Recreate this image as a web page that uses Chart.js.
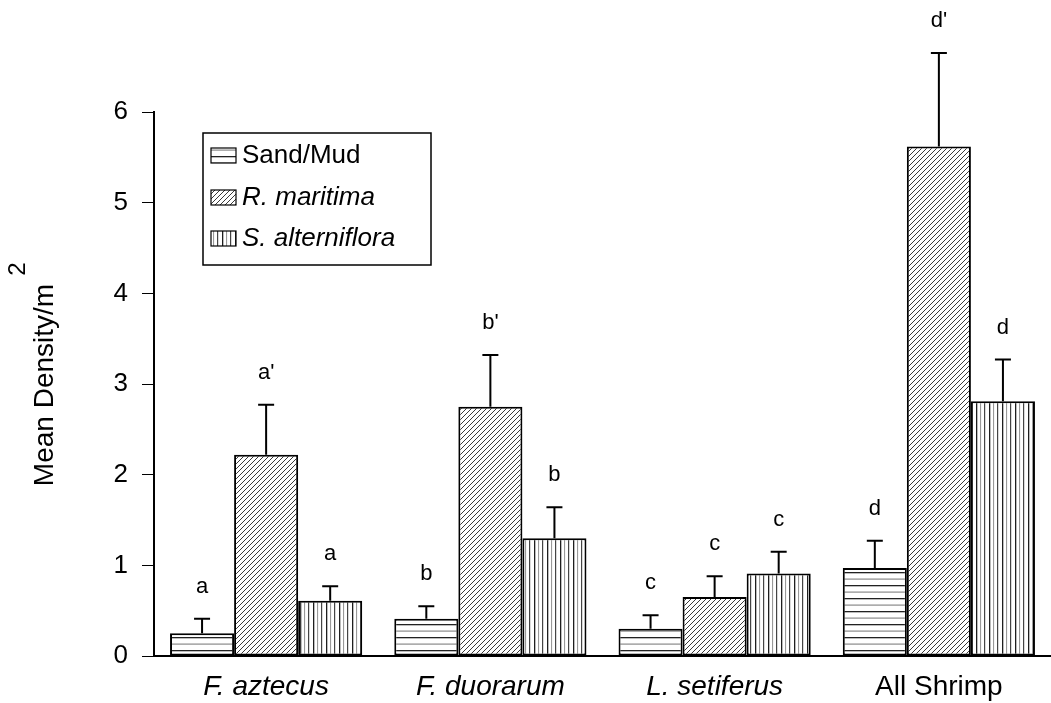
<!DOCTYPE html>
<html>
<head>
<meta charset="utf-8">
<script src="https://cdn.jsdelivr.net/npm/chart.js@4"></script>
<style>
    html, body { margin: 0; padding: 0; background: #fff; }
    #wrap { width: 1051px; height: 703px; position: relative; }
</style>
</head>
<body>
<div id="wrap"><canvas id="densityChart" width="1051" height="703"></canvas></div>
<script>
const categories = ['F. aztecus', 'F. duorarum', 'L. setiferus', 'All Shrimp'];
const seriesNames = ['Sand/Mud', 'R. maritima', 'S. alterniflora'];

const sandMud = [0.25, 0.41, 0.30, 0.97];
const maritima = [2.22, 2.75, 0.65, 5.62];
const alterniflora = [0.61, 1.30, 0.91, 2.81];

// upper end of the error bars
const sandMudErr = [0.41, 0.55, 0.45, 1.27];
const maritimaErr = [2.77, 3.32, 0.88, 6.65];
const alternifloraErr = [0.77, 1.64, 1.15, 3.27];

// significance letters above each bar
const sandMudLetters = ['a', 'b', 'c', 'd'];
const maritimaLetters = ["a'", "b'", 'c', "d'"];
const alternifloraLetters = ['a', 'b', 'c', 'd'];

const yTicks = [0, 1, 2, 3, 4, 5, 6];

const FONT = '"Liberation Sans", Arial, Helvetica, sans-serif';

function makePattern(kind) {
    const c = document.createElement('canvas');
    const g = c.getContext('2d');
    if (kind === 'horiz') {
        c.width = 8; c.height = 13;
        g.fillStyle = '#fff'; g.fillRect(0, 0, 8, 13);
        g.fillStyle = '#222'; g.fillRect(0, 0, 8, 1.3);
        g.fillStyle = '#8a8a8a'; g.fillRect(0, 6.5, 8, 1.2);
    } else if (kind === 'diag') {
        c.width = 5; c.height = 5;
        g.fillStyle = '#fff'; g.fillRect(0, 0, 5, 5);
        g.strokeStyle = '#3a3a3a'; g.lineWidth = 1;
        g.beginPath();
        g.moveTo(0, 5); g.lineTo(5, 0);
        g.moveTo(-1, 1); g.lineTo(1, -1);
        g.moveTo(4, 6); g.lineTo(6, 4);
        g.stroke();
    } else {
        c.width = 13; c.height = 8;
        g.fillStyle = '#fff'; g.fillRect(0, 0, 13, 8);
        g.fillStyle = '#1e1e1e'; g.fillRect(1, 0, 1.3, 8);
        g.fillStyle = '#999'; g.fillRect(5, 0, 1.1, 8);
        g.fillStyle = '#444'; g.fillRect(9, 0, 1.2, 8);
    }
    return g.createPattern(c, 'repeat');
}

document.addEventListener('DOMContentLoaded', () => {
    const ctx = document.getElementById('densityChart').getContext('2d');
    const patterns = [makePattern('horiz'), makePattern('diag'), makePattern('vert')];
    const errs = [sandMudErr, maritimaErr, alternifloraErr];
    const letters = [sandMudLetters, maritimaLetters, alternifloraLetters];

    // error bars + letters
    const errorBarPlugin = {
        id: 'errorBars',
        afterDatasetsDraw(chart) {
            const c = chart.ctx;
            const y = chart.scales.y;
            c.save();
            c.strokeStyle = '#000';
            c.lineWidth = 2;
            c.fillStyle = '#000';
            c.font = '22px ' + FONT;
            c.textAlign = 'center';
            c.textBaseline = 'bottom';
            chart.data.datasets.forEach((ds, di) => {
                const meta = chart.getDatasetMeta(di);
                meta.data.forEach((bar, i) => {
                    const top = y.getPixelForValue(errs[di][i]);
                    c.beginPath();
                    c.moveTo(bar.x, bar.y);
                    c.lineTo(bar.x, top);
                    c.moveTo(bar.x - 8, top);
                    c.lineTo(bar.x + 8, top);
                    c.stroke();
                    c.fillText(letters[di][i], bar.x, top - 21);
                });
            });
            c.restore();
        }
    };

    // boxed legend inside the plot, y title with raised "2"
    const decorPlugin = {
        id: 'decor',
        afterDraw(chart) {
            const c = chart.ctx;
            c.save();
            c.strokeStyle = '#000';
            c.lineWidth = 1.5;
            c.strokeRect(203, 133, 228, 132);
            const rows = [155, 197, 238];
            chart.data.datasets.forEach((ds, di) => {
                const ry = rows[di];
                c.fillStyle = patterns[di];
                c.fillRect(211, ry - 7, 25, 15);
                c.lineWidth = 1.2;
                c.strokeRect(211, ry - 7, 25, 15);
                c.fillStyle = '#000';
                c.font = (di === 0 ? '' : 'italic ') + '26px ' + FONT;
                c.textAlign = 'left';
                c.textBaseline = 'middle';
                c.fillText(ds.label, 242, ry + 1);
            });

            c.translate(53, 385);
            c.rotate(-Math.PI / 2);
            c.fillStyle = '#000';
            c.font = '28px ' + FONT;
            c.textAlign = 'center';
            c.textBaseline = 'alphabetic';
            const t = 'Mean Density/m';
            c.fillText(t, 0, 0);
            const half = c.measureText(t).width / 2;
            c.font = '24px ' + FONT;
            c.textAlign = 'left';
            c.fillText('2', half + 8, -28);
            c.restore();
        }
    };

    new Chart(ctx, {
        type: 'bar',
        data: {
            labels: categories,
            datasets: [sandMud, maritima, alterniflora].map((vals, di) => ({
                label: seriesNames[di],
                data: vals,
                backgroundColor: patterns[di],
                borderColor: '#000',
                borderWidth: 2,
                borderSkipped: false,
                categoryPercentage: 0.857,
                barPercentage: 1.0
            }))
        },
        options: {
            responsive: false,
            animation: false,
            events: [],
            layout: { padding: { top: 112, right: 0, left: 0, bottom: 0 } },
            plugins: {
                legend: { display: false },
                tooltip: { enabled: false },
                title: { display: false }
            },
            scales: {
                x: {
                    grid: { display: false, drawTicks: false },
                    border: { display: true, color: '#000', width: 2 },
                    ticks: {
                        color: '#000',
                        padding: 14,
                        font: (c) => ({
                            family: FONT,
                            size: 28,
                            style: c.index < 3 ? 'italic' : 'normal'
                        })
                    },
                    afterFit(scale) { scale.height = 47; }
                },
                y: {
                    min: 0,
                    max: 6,
                    afterBuildTicks(scale) {
                        scale.ticks = yTicks.map(v => ({ value: v }));
                    },
                    grid: {
                        drawOnChartArea: false,
                        drawTicks: true,
                        tickLength: 12,
                        color: '#000',
                        lineWidth: 1
                    },
                    border: { display: true, color: '#000', width: 2 },
                    ticks: {
                        color: '#000',
                        padding: 14,
                        font: { family: FONT, size: 26 }
                    },
                    afterFit(scale) { scale.width = 154; }
                }
            }
        },
        plugins: [errorBarPlugin, decorPlugin]
    });
});
</script>
</body>
</html>
